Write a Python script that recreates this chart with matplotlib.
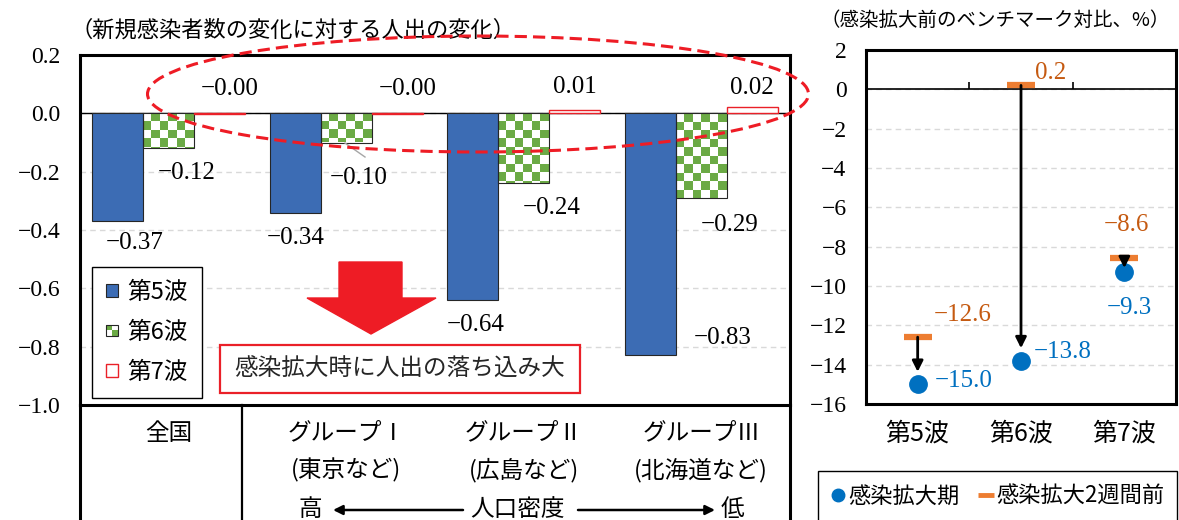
import numpy as np
import matplotlib.pyplot as plt
from matplotlib.patches import Rectangle, Ellipse, Polygon, Patch, FancyArrowPatch
from matplotlib.lines import Line2D
from matplotlib.colors import ListedColormap
from matplotlib.transforms import Affine2D, blended_transform_factory
from matplotlib.legend_handler import HandlerBase

JP = 'Noto Sans CJK JP'
NUM = ['Liberation Serif', 'Noto Sans CJK JP']
plt.rcParams['font.family'] = [JP, 'DejaVu Sans']

# left chart data
groups = ['全国', 'グループⅠ', 'グループⅡ', 'グループⅢ']
group_notes = ['', '(東京など)', '(広島など)', '(北海道など)']
waves = ['第5波', '第6波', '第7波']
wave5 = [-0.37, -0.34, -0.64, -0.83]
wave6 = [-0.12, -0.10, -0.24, -0.29]
wave7 = [-0.002, -0.003, 0.01, 0.02]
left_ticks = [0.2, 0.0, -0.2, -0.4, -0.6, -0.8, -1.0]

# right chart data
peak = [-15.0, -13.8, -9.3]
before = [-12.6, 0.2, -8.6]
right_ticks = list(range(-16, 3, 2))

BLUE = '#3C6CB4'
GREEN = '#6BAA45'
RED = '#EA2028'
DOT = '#0070C0'
ORANGE = '#ED7D31'
ORANGE_TXT = '#C55A11'


def fmt(v, nd):
    s = f'{v:.{nd}f}'
    if float(s) == 0 and v > 0:
        s = s.lstrip('-')
    return s.replace('-', '−')


class CheckerHandler(HandlerBase):
    def create_artists(self, legend, orig_handle, xdescent, ydescent,
                       width, height, fontsize, trans):
        s = min(width, height)
        x0 = -xdescent + (width - s) / 2
        y0 = -ydescent + (height - s) / 2
        h = s / 2
        arts = []
        for i in range(2):
            for j in range(2):
                c = GREEN if (i + j) % 2 == 1 else 'white'
                arts.append(Rectangle((x0 + i * h, y0 + j * h), h, h,
                                      facecolor=c, edgecolor='none', transform=trans))
        arts.append(Rectangle((x0, y0), s, s, facecolor='none',
                              edgecolor='#262626', lw=0.8, transform=trans))
        return arts


fig = plt.figure(figsize=(11.79, 5.2), dpi=100)
# pixel coordinates (origin top-left) for the decorations
pix = Affine2D().scale(1 / 1179, -1 / 520).translate(0, 1) + fig.transFigure


def frac(x0, y0, x1, y1):
    return [x0 / 1179, 1 - y1 / 520, (x1 - x0) / 1179, (y1 - y0) / 520]


# ---------------- left chart ----------------
ax = fig.add_axes(frac(80, 55, 790, 405))
x = np.arange(len(groups))
w = 0.287
ax.set_xlim(-0.5, 3.5)
ax.set_ylim(-1.0, 0.2)

b5 = ax.bar(x - w, wave5, w, color=BLUE, edgecolor='#262626', lw=0.8, zorder=2)
b6 = ax.bar(x, wave6, w, facecolor='none', edgecolor='#262626', lw=0.8, zorder=2)
b7 = ax.bar(x + w, wave7, w, color='white', edgecolor=RED, lw=1.0, zorder=2)

# checkerboard fill for 6th wave bars
cmap = ListedColormap(['white', GREEN])
ppx = ax.transData.transform((1, 0))[0] - ax.transData.transform((0, 0))[0]
ppy = ax.transData.transform((0, 1))[1] - ax.transData.transform((0, 0))[1]
for bar in b6:
    bx, bw = bar.get_x(), bar.get_width()
    top = max(bar.get_y(), bar.get_y() + bar.get_height())
    bot = min(bar.get_y(), bar.get_y() + bar.get_height())
    sq = bw * ppx / 6
    dy = sq / ppy
    nrow = int(np.ceil((top - bot) / dy))
    arr = np.indices((nrow, 6)).sum(axis=0) % 2
    im = ax.imshow(arr, cmap=cmap, extent=(bx, bx + bw, top - nrow * dy, top),
                   interpolation='nearest', aspect='auto', zorder=1.9)
    im.set_clip_path(bar)

ax.set_xlim(-0.5, 3.5)
ax.set_ylim(-1.0, 0.2)
ax.axhline(0, color='black', lw=1.0, zorder=1)
ax.yaxis.grid(True, color='#D9D9D9', ls=(0, (4, 3)), lw=1)
ax.set_axisbelow(True)
for sp in ax.spines.values():
    sp.set_linewidth(2.2)
ax.set_yticks(left_ticks, labels=[fmt(t, 1) if t != 0 else '0.0' for t in left_ticks],
              fontfamily=NUM, fontsize=17)
ax.set_xticks(x, labels=groups, fontsize=17)
ax.tick_params(axis='x', length=0, pad=12)
ax.tick_params(axis='y', length=0, pad=14)

# data labels
off5 = [(17, -22), (0, -26), (3, -25), (72, 17)]
off6 = [(18, -25), (12, -36), (28, -25), (28, -27)]
off7 = [(10, 25), (10, 25), (0, 23), (0, 19)]
for bars, vals, offs, nd in [(b5, wave5, off5, 2), (b6, wave6, off6, 2), (b7, wave7, off7, 2)]:
    for bar, v, o in zip(bars, vals, offs):
        xc = bar.get_x() + bar.get_width() / 2
        ax.annotate(fmt(v, nd), (xc, v), xytext=o, textcoords='offset pixels',
                    ha='center', va='center', fontsize=18, family=NUM, zorder=6)

# sub labels under groups
sub_tr = blended_transform_factory(ax.transData, pix)
for i, note in enumerate(group_notes):
    if note:
        ax.text(i, 470, note, transform=sub_tr, ha='center', va='center',
                fontsize=17, clip_on=False)

checker = Patch(label=waves[1])
leg = ax.legend([b5, checker, b7], waves, handler_map={checker: CheckerHandler()},
                loc='lower left', bbox_to_anchor=(0.017, 0.02), fontsize=17,
                handlelength=0.5, handleheight=0.5, handletextpad=0.4,
                labelspacing=0.72, borderpad=0.6, borderaxespad=0,
                fancybox=False, edgecolor='black', framealpha=1)
leg.get_frame().set_linewidth(1.0)
leg.set_zorder(7)

# ---------------- right chart ----------------
ax2 = fig.add_axes(frac(866, 50, 1176, 404))
xr = np.arange(len(waves))
ax2.set_xlim(-0.5, 2.5)
ax2.set_ylim(-16, 2)
ax2.yaxis.grid(True, color='#D9D9D9', ls=(0, (4, 3)), lw=1)
ax2.set_axisbelow(True)
ax2.axhline(0, color='black', lw=1.2, zorder=1)
ax2.vlines(xr[:-1] + 0.5, 0, 0.35, color='black', lw=1.2, zorder=1)
for sp in ax2.spines.values():
    sp.set_linewidth(2.2)

ax2.plot(xr, before, ls='none', marker='_', ms=20, mew=4.5, color=ORANGE, zorder=3)
ax2.plot(xr, peak, ls='none', marker='o', ms=12.5, color=DOT, zorder=4)
shrink = [9, 9, 3]
for i in xr:
    ax2.annotate('', xy=(i, peak[i]), xytext=(i, before[i]),
                 arrowprops=dict(arrowstyle='-|>', color='black', lw=2,
                                 mutation_scale=16, shrinkA=0, shrinkB=shrink[i]),
                 zorder=5)

peak_off = [(17, 3, 'left'), (13, 9, 'left'), (5, -36, 'center')]
before_off = [(45, 22), (30, 12), (2, 33)]
for i in xr:
    dx, dy, ha = peak_off[i]
    ax2.annotate(fmt(peak[i], 1), (i, peak[i]), xytext=(dx, dy), textcoords='offset pixels',
                 ha=ha, va='center', fontsize=18, family=NUM, color=DOT)
    ax2.annotate(fmt(before[i], 1), (i, before[i]), xytext=before_off[i],
                 textcoords='offset pixels', ha='center', va='center',
                 fontsize=18, family=NUM, color=ORANGE_TXT)

ax2.set_yticks(right_ticks, labels=[fmt(t, 0) for t in right_ticks],
               fontfamily=NUM, fontsize=17)
ax2.set_xticks(xr, labels=waves, fontsize=18)
ax2.tick_params(axis='x', length=0, pad=12)
ax2.tick_params(axis='y', length=0, pad=14)

leg2 = fig.legend([Line2D([], [], ls='none', marker='o', ms=9, color=DOT),
                   Line2D([], [], ls='none', marker='_', ms=11, mew=3.5, color=ORANGE)],
                  ['感染拡大期', '感染拡大2週間前'], loc='upper left',
                  bbox_to_anchor=(818 / 1179, 1 - 471 / 520), ncol=2, fontsize=16,
                  handlelength=0.6, handletextpad=0.15, columnspacing=0.9,
                  borderpad=0.6, borderaxespad=0, fancybox=False,
                  edgecolor='black', framealpha=1)
leg2.get_frame().set_linewidth(1.0)

# ---------------- decorations ----------------
fig.text(70 / 1179, 1 - 30 / 520, '（新規感染者数の変化に対する人出の変化）',
         ha='left', va='center', fontsize=16)
fig.text(820 / 1179, 1 - 20 / 520, '（感染拡大前のベンチマーク対比、%）',
         ha='left', va='center', fontsize=14)

# table lines below the left chart
fig.add_artist(Line2D([80, 80], [405, 520], transform=pix, color='black', lw=2.2))
fig.add_artist(Line2D([242, 242], [405, 520], transform=pix, color='black', lw=1.6))
fig.add_artist(Line2D([790, 790], [405, 520], transform=pix, color='black', lw=2.2))

# population density row
for txt, px_ in [('高', 310), ('人口密度', 517), ('低', 732)]:
    fig.text(px_ / 1179, 1 - 510 / 520, txt, ha='center', va='center', fontsize=17)
for a, b in [((463, 510), (333, 510)), ((578, 510), (715, 510))]:
    fig.add_artist(FancyArrowPatch(a, b, transform=pix, arrowstyle='-|>',
                                   mutation_scale=14, color='black', lw=1.8,
                                   shrinkA=0, shrinkB=0))

# big red arrow and message box
fig.add_artist(Polygon([(339, 262), (402, 262), (402, 298), (436, 298), (371, 334),
                        (307, 298), (339, 298)], transform=pix, color='#EE1C25', zorder=5))
fig.add_artist(Rectangle((220, 345), 360, 48, transform=pix, facecolor='white',
                         edgecolor=RED, lw=1.6, zorder=5))
fig.text(400 / 1179, 1 - 369 / 520, '感染拡大時に人出の落ち込み大', ha='center',
         va='center', fontsize=17, color='#262626', zorder=6)

# dashed ellipse around the 7th wave
fig.add_artist(Ellipse((478, 94), 661, 116, transform=pix, fill=False,
                       edgecolor='#EE1C25', lw=2.2, ls=(0, (4, 2)), zorder=8))
# leader line
fig.add_artist(Line2D([345, 365], [143, 157], transform=pix, color='#A6A6A6', lw=1))

fig.savefig('out.png', dpi=100)
